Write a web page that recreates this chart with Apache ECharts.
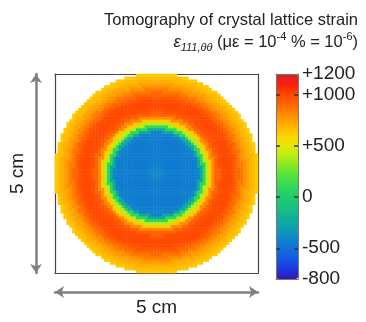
<!DOCTYPE html>
<html>
<head>
<meta charset="utf-8">
<script src="https://cdn.jsdelivr.net/npm/echarts@6/dist/echarts.min.js"></script>
<style>
  html, body { margin: 0; background: #fff; }
  #chart { width: 366px; height: 322px; }
</style>
</head>
<body>
<div id="chart"></div>
<script>
// cells per side of the square map
const gridSize = 70
// strain (µε) read along a radius, 31 samples evenly spaced from centre to rim
const ringValues = [
  -350, -400, -430, -445, -450, -450, -450, -450, -450, -450,
  -450, -450, -430, -250, 100, 400, 620, 800, 920, 970,
  995, 1000, 990, 960, 910, 850, 790, 740, 700, 660, 620
]
// colour bar
const colorbarMin = -800
const colorbarMax = 1200
const colorbarTicks = [-800, -500, 0, 500, 1000, 1200]
const colorbarInnerTicks = [-500, 0, 500, 1000]
const colorStops = [
  '#3018b0', '#2038e0', '#1458e8', '#1070d8', '#1088c8', '#10a0b0', '#12b098',
  '#18c080', '#20cc6c', '#30d858', '#50e040', '#80e828', '#b8ec18', '#e8e808',
  '#ffd000', '#ffb000', '#ff8c00', '#ff6800', '#ff4800', '#f82010', '#d02424'
]

const font = "'Liberation Sans', Arial, sans-serif"
const cats = Array.from({ length: gridSize }, (_, i) => i)

const cells = []
const mid = gridSize / 2
const lastRing = ringValues.length - 1
for (let i = 0; i < gridSize; i++) {
  for (let j = 0; j < gridSize; j++) {
    const d = Math.hypot(i + 0.5 - mid, j + 0.5 - mid)
    if (d > mid + 0.2) continue
    const ring = Math.min(lastRing, Math.round(d / mid * lastRing))
    cells.push([i, j, ringValues[ring]])
  }
}

const boxTick = {
  inside: true,
  length: 4,
  interval: (idx) => idx % 14 === 0,
  lineStyle: { color: '#444' }
}
const boxLine = { onZero: false, lineStyle: { color: '#444', width: 1.2 } }
const arrowLine = {
  onZero: false,
  symbol: ['arrow', 'arrow'],
  symbolSize: [9, 9],
  lineStyle: { color: '#808080', width: 2.5 }
}
const barLine = { onZero: false, lineStyle: { color: '#777', width: 1 } }
const off = { show: false }
const bigText = { fontFamily: font, fontSize: 19, color: '#222' }

const chart = echarts.init(document.getElementById('chart'))

chart.setOption({
  animation: false,
  backgroundColor: '#fff',
  title: [
    {
      text: 'Tomography of crystal lattice strain',
      right: 3,
      top: 7,
      textStyle: { fontFamily: font, fontSize: 16.5, fontWeight: 'normal', color: '#222' }
    },
    {
      text: '{e|ε}{s|111,θθ} (με = 10{p|-4} % = 10{p|-6})',
      right: 3,
      top: 26,
      textStyle: {
        fontFamily: font, fontSize: 16.5, fontWeight: 'normal', color: '#222', lineHeight: 22,
        rich: {
          e: { fontFamily: font, fontSize: 16.5, fontStyle: 'italic', color: '#222', lineHeight: 22 },
          s: { fontFamily: font, fontSize: 11, fontStyle: 'italic', color: '#222', lineHeight: 22, verticalAlign: 'bottom' },
          p: { fontFamily: font, fontSize: 11, color: '#222', lineHeight: 22, verticalAlign: 'top' }
        }
      }
    }
  ],
  grid: [
    { left: 52, top: 74, width: 206, height: 205 },
    { left: 276, top: 74, width: 22, height: 205 }
  ],
  xAxis: [
    { type: 'category', gridIndex: 0, data: cats, position: 'bottom', axisLine: boxLine, axisTick: boxTick, axisLabel: off, splitLine: off },
    { type: 'category', gridIndex: 0, data: cats, position: 'top', axisLine: boxLine, axisTick: boxTick, axisLabel: off, splitLine: off },
    {
      type: 'value', gridIndex: 0, position: 'bottom', offset: 19, min: 0, max: 5,
      axisLine: arrowLine, axisTick: off, axisLabel: off, splitLine: off,
      name: '5 cm', nameLocation: 'middle', nameGap: 6,
      nameTextStyle: bigText
    },
    { type: 'value', gridIndex: 1, position: 'bottom', min: 0, max: 1, z: 10, axisLine: barLine, axisTick: off, axisLabel: off, splitLine: off },
    { type: 'value', gridIndex: 1, position: 'top', min: 0, max: 1, z: 10, axisLine: barLine, axisTick: off, axisLabel: off, splitLine: off }
  ],
  yAxis: [
    { type: 'category', gridIndex: 0, data: cats, position: 'left', axisLine: boxLine, axisTick: boxTick, axisLabel: off, splitLine: off },
    { type: 'category', gridIndex: 0, data: cats, position: 'right', axisLine: boxLine, axisTick: boxTick, axisLabel: off, splitLine: off },
    {
      type: 'value', gridIndex: 0, position: 'left', offset: 19, min: 0, max: 5,
      axisLine: arrowLine, axisTick: off, axisLabel: off, splitLine: off,
      name: '5 cm', nameLocation: 'middle', nameRotate: 90, nameGap: 9,
      nameTextStyle: bigText
    },
    {
      type: 'value', gridIndex: 1, position: 'left', min: colorbarMin, max: colorbarMax, z: 10,
      axisLine: barLine,
      axisTick: { inside: true, length: 4, customValues: colorbarInnerTicks, lineStyle: { color: '#333', width: 1.5 } },
      axisLabel: off, splitLine: off
    },
    {
      type: 'value', gridIndex: 1, position: 'right', min: colorbarMin, max: colorbarMax, z: 10,
      axisLine: barLine,
      axisTick: { inside: true, length: 4, customValues: colorbarInnerTicks, lineStyle: { color: '#333', width: 1.5 } },
      axisLabel: Object.assign({
        customValues: colorbarTicks,
        margin: 4,
        formatter: (v) => (v > 0 ? '+' + v : String(v))
      }, bigText),
      splitLine: off
    }
  ],
  visualMap: {
    type: 'continuous',
    seriesIndex: 0,
    min: colorbarMin,
    max: colorbarMax,
    calculable: false,
    hoverLink: false,
    left: 276,
    top: 74,
    padding: 0,
    itemWidth: 22,
    itemHeight: 205,
    text: ['', ''],
    inRange: { color: colorStops }
  },
  series: [
    {
      type: 'heatmap',
      xAxisIndex: 0,
      yAxisIndex: 0,
      data: cells,
      progressive: 0,
      emphasis: { disabled: true },
      itemStyle: { borderWidth: 0 }
    }
  ]
})
</script>
</body>
</html>
